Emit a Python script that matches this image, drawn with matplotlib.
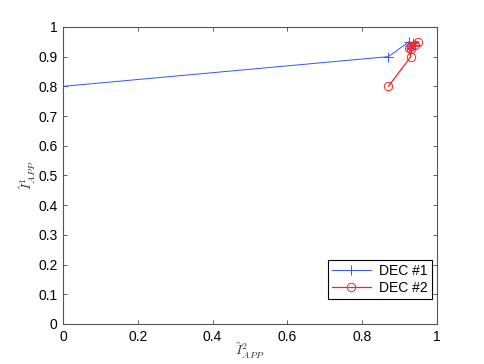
import matplotlib
matplotlib.use("Agg")
import matplotlib.pyplot as plt

plt.rcParams['font.family'] = ['Liberation Sans', 'DejaVu Sans']
plt.rcParams['mathtext.fontset'] = 'cm'

dec1_x = [0.0, 0.87, 0.925, 0.93, 0.94, 0.935, 0.93]
dec1_y = [0.8, 0.90, 0.95, 0.93, 0.94, 0.945, 0.935]
dec2_x = [0.87, 0.93, 0.925, 0.93, 0.95, 0.94, 0.93]
dec2_y = [0.80, 0.90, 0.93, 0.925, 0.95, 0.94, 0.935]

xticks = [0, 0.2, 0.4, 0.6, 0.8, 1]
yticks = [0, 0.1, 0.2, 0.3, 0.4, 0.5, 0.6, 0.7, 0.8, 0.9, 1]

fig = plt.figure(figsize=(4.85, 3.64), dpi=100)
ax = fig.add_axes([0.13, 0.11, 0.771, 0.816])
ax.plot(dec1_x, dec1_y, color='#3355ff', marker='+', markersize=7, linewidth=0.7,
        markeredgewidth=0.7, label='DEC #1')
ax.plot(dec2_x, dec2_y, color='#ff2222', marker='o', markersize=6, linewidth=0.9,
        markerfacecolor='none', markeredgewidth=0.7, label='DEC #2')
ax.set_xlim(0, 1)
ax.set_ylim(0, 1)
ax.set_xticks(xticks)
ax.set_xticklabels([f"{t:g}" for t in xticks])
ax.set_yticks(yticks)
ax.set_yticklabels([f"{t:g}" for t in yticks])
ax.tick_params(direction='in', top=True, right=True, labelsize=10, length=3, width=0.6,
               colors='#444444', labelcolor='black', pad=4)
for s in ax.spines.values():
    s.set_color('#555555')
    s.set_linewidth(0.8)
ax.set_xlabel(r'$\hat{I}^2_{APP}$', fontsize=10, color='#333333')
ax.set_ylabel(r'$\hat{I}^1_{APP}$', fontsize=10, color='#333333')
ax.yaxis.set_label_coords(-0.068, 0.5)
ax.xaxis.set_label_coords(0.5, -0.057)
leg = ax.legend(loc='lower right', bbox_to_anchor=(0.987, 0.084), borderaxespad=0,
                fontsize=10, fancybox=False, edgecolor='black',
                framealpha=1, handlelength=2.8, handletextpad=0.6, borderpad=0.3, labelspacing=0.2)
leg.get_frame().set_linewidth(0.8)
fig.savefig('out.png', dpi=100)
